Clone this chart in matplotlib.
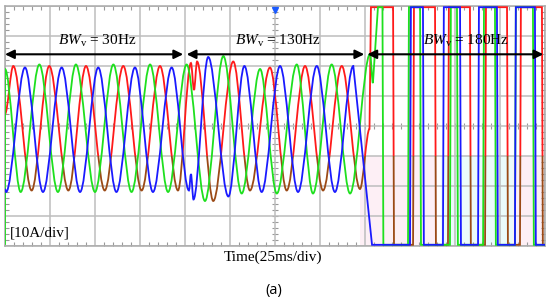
import matplotlib
matplotlib.use('Agg')
import matplotlib.pyplot as plt
import numpy as np
from matplotlib.path import Path
from matplotlib.patches import PathPatch, Rectangle
from matplotlib.ticker import MultipleLocator

matplotlib.rcParams['font.family'] = 'Liberation Serif'
matplotlib.rcParams['mathtext.fontset'] = 'custom'
matplotlib.rcParams['mathtext.rm'] = 'Liberation Serif'
matplotlib.rcParams['mathtext.it'] = 'Liberation Serif:italic'

# turning points of the three phase currents (time in ms, current in A)
red_t = [0, 4.6, 14.8, 24.6, 35.2, 45.0, 55.4, 65.7, 75.9, 86.1, 96.1, 103.3, 105.0, 106.7,
         115.7, 126.8, 136.1, 147.2, 156.5, 166.7, 176.7, 187.1, 197.2, 202.5]
red_i = [4, 20, -21.5, 20, -21.5, 20, -21.5, 20, -21.5, 20, -21.5, 21, 12, 21.5,
         -25, 21.5, -21.5, 19.5, -21.5, 20, -21.5, 20, -21, -1]

blue_t = [0, 0.6, 11.1, 21.1, 31.5, 41.7, 51.8, 61.9, 72.2, 82.2, 92.6, 102.2, 103.3, 104.7,
          112.9, 124.1, 133.0, 142.6, 152.8, 162.8, 173.2, 183.3, 193.5]
blue_i = [-21, -22, 19.5, -22, 19.5, -22, 19.5, -22, 19.5, -22, 19.5, -21.5, -16, -24.5,
          23, -23.5, 20, -22, 20, -22, 20, -22, 20]

green_t = [0, 0, 8.7, 19.1, 29.4, 39.4, 50.0, 60.2, 70.3, 80.6, 90.6, 100.9, 111.1, 121.3,
           131.5, 141.7, 151.0, 162.1, 171.1, 181.5, 191.7, 202.8, 204.4]
green_i = [-39.6, 19, -22, 20.5, -22, 20.5, -22, 20.5, -22, 20.5, -22, 20.5, -25, 23.3,
           -22.5, 19, -22.5, 20.5, -22.5, 20.5, -22.5, 24, 14.3]

# saturated switching after the 180 Hz step: edge times (ms) and the first level
red_edges = [202.8, 215.6, 226.7, 238.9, 246.1, 258.3, 266.7, 278.9, 286.1, 298.3]
blue_edges = [203.4, 225.0, 232.2, 243.3, 252.8, 262.8, 273.3, 283.3, 294.4]
green_edges = [206.7, 209.7, 223.9, 230.6, 247.2, 251.1, 265.6, 272.2, 283.3, 293.3]
red_first, blue_first, green_first = 1, -1, 1
sat = 39.6

segment_labels = [r'$\mathit{BW}_{\mathrm{v}}$ = 30Hz',
                  r'$\mathit{BW}_{\mathrm{v}}$ = 130Hz',
                  r'$\mathit{BW}_{\mathrm{v}}$ = 180Hz']
segment_bounds = [(0, 99), (100.9, 199.6), (201.3, 299.1)]
label_x = [51, 151.7, 256]

tints = [(197, 240, '#fdeff5'), (242, 282, '#ebfbfb'), (282, 300, '#fdeff5')]

grid_color = '#bdbdbd'


def trace_path(t, cur, edges, first, ramp=0.5):
    verts = [(t[0], cur[0])]
    codes = [Path.MOVETO]
    for k in range(1, len(t)):
        dt = t[k] - t[k - 1]
        verts += [(t[k - 1] + dt / 3, cur[k - 1]), (t[k] - dt / 3, cur[k]), (t[k], cur[k])]
        codes += [Path.CURVE4] * 3
    level = first * sat
    verts.append((edges[0] + ramp, level))
    codes.append(Path.LINETO)
    for e in edges[1:]:
        verts.append((e, level))
        level = -level
        verts.append((e + ramp, level))
        codes += [Path.LINETO] * 2
    verts.append((300, level))
    codes.append(Path.LINETO)
    return Path(verts, codes)


fig = plt.figure(figsize=(5.5, 3.01), dpi=100)
ax = fig.add_axes([5 / 550, 55 / 301, 540 / 550, 240 / 301])
ax.set_xlim(0, 300)
ax.set_ylim(-40, 40)

for x0, x1, c in tints:
    ax.add_patch(Rectangle((x0, -40), x1 - x0, 30, color=c, lw=0, zorder=0))

ax.xaxis.set_major_locator(MultipleLocator(25))
ax.yaxis.set_major_locator(MultipleLocator(10))
ax.xaxis.set_minor_locator(MultipleLocator(5))
ax.yaxis.set_minor_locator(MultipleLocator(2))
ax.grid(True, color=grid_color, lw=1.1, zorder=1)
ax.tick_params(which='both', direction='in', top=True, right=True,
               labelbottom=False, labelleft=False, color='#999999')
ax.tick_params(which='major', length=0)
ax.tick_params(which='minor', length=3, width=0.8)
for s in ax.spines.values():
    s.set_color('#aaaaaa')
    s.set_linewidth(1.1)

# tick marks along the centre lines
mx = np.arange(5, 300, 5)
my = np.arange(-38, 40, 2)
ax.plot(mx, np.zeros_like(mx), '|', ms=5, color='#999999', mew=0.8, zorder=1.5)
ax.plot(np.full_like(my, 150), my, '_', ms=5, color='#999999', mew=0.8, zorder=1.5)

upper = Rectangle((0, -10), 300, 50, transform=ax.transData)
lower = Rectangle((0, -40), 300, 30, transform=ax.transData)

red = trace_path(red_t, red_i, red_edges, red_first)
for col, clip in [('#ff1a1a', upper), ('#9b4a16', lower)]:
    p = PathPatch(red, fill=False, edgecolor=col, lw=1.3, zorder=3)
    ax.add_patch(p)
    p.set_clip_path(clip)

green = trace_path(green_t, green_i, green_edges, green_first)
ax.add_patch(PathPatch(green, fill=False, edgecolor='#1ee01e', lw=1.3, zorder=4))

blue = trace_path(blue_t, blue_i, blue_edges, blue_first)
ax.add_patch(PathPatch(blue, fill=False, edgecolor='#1a1aff', lw=1.3, zorder=5))

# trigger marker
ax.plot([150], [38.8], marker='v', ms=5, color='#1a5aff', clip_on=False, zorder=6)

for (a, b), lab, lx in zip(segment_bounds, segment_labels, label_x):
    ax.annotate('', xy=(b, 23.9), xytext=(a, 23.9),
                arrowprops=dict(arrowstyle='<|-|>,head_length=0.45,head_width=0.22',
                                color='black', lw=1.5, mutation_scale=12,
                                shrinkA=0, shrinkB=0), zorder=7)
    ax.text(lx, 28.3, lab, fontsize=11, ha='center', va='center', zorder=7)

ax.text(2.8, -35.7, '[10A/div]', fontsize=11, ha='left', va='center', zorder=7)

fig.text(0.4964, 0.146, 'Time(25ms/div)', fontsize=11, ha='center', va='center')
fig.text(0.498, 0.0365, '(a)', fontsize=10.5, family='Open Sans', ha='center', va='center')

fig.savefig('out.png', dpi=100)
